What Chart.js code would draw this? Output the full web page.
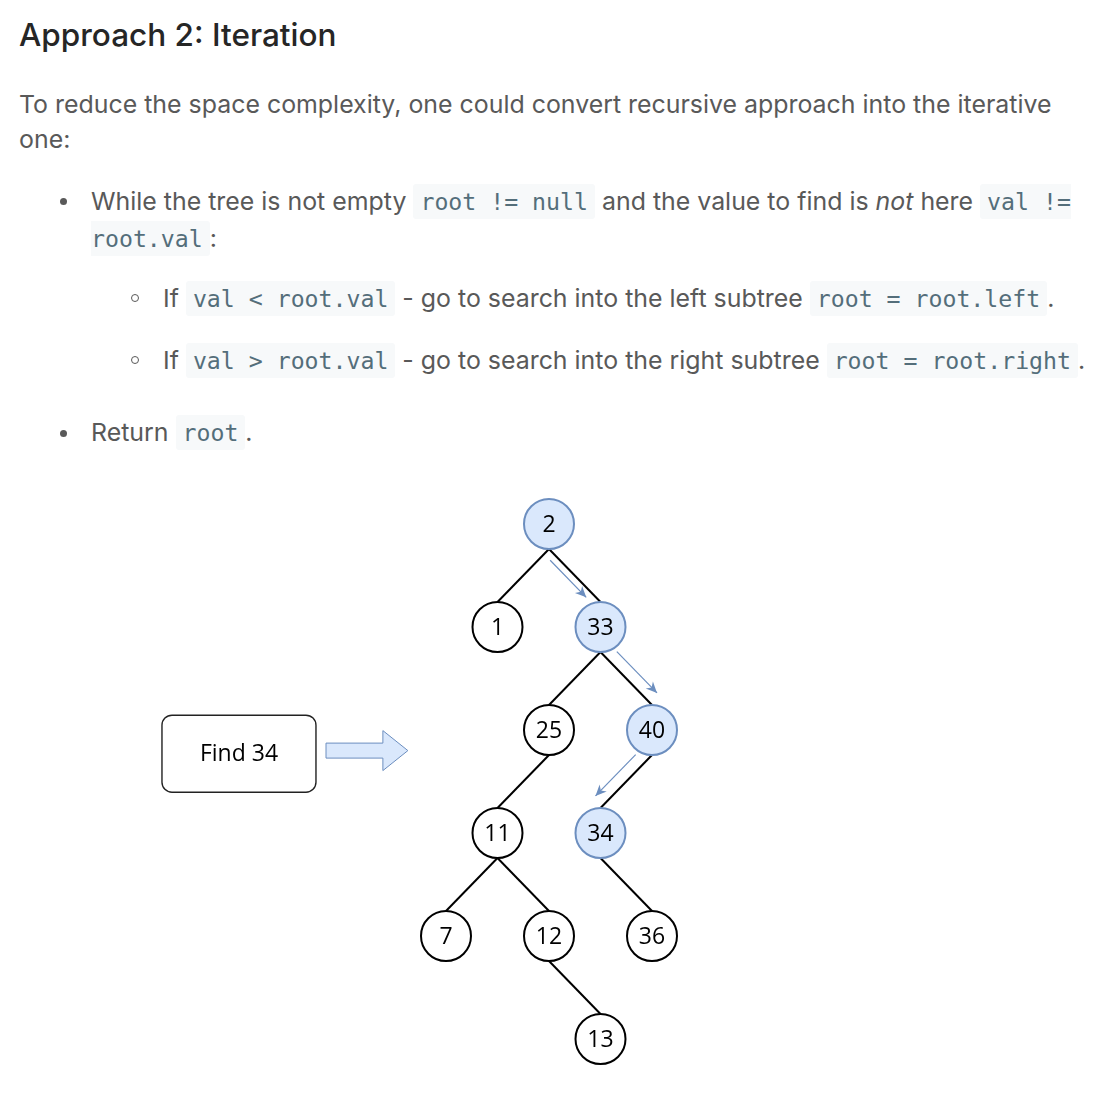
<!DOCTYPE html>
<html>
<head>
<meta charset="utf-8">
<script src="https://cdn.jsdelivr.net/npm/chart.js@4"></script>
<style>
  body { margin: 0; background: #fff; width: 1118px; height: 1102px; overflow: hidden;
         font-family: Inter, "Noto Sans", sans-serif; color: #595959; }
  .ln { position: absolute; white-space: nowrap; font-size: 24.9px; line-height: 36px; height: 36px; }
  h3 { position: absolute; left: 19px; top: 16px; margin: 0; font-size: 31.5px; line-height: 38px;
       font-weight: 500; color: #262626; }
  code { font-family: "DejaVu Sans Mono", monospace; font-size: 23.2px; color: #546e7a;
         background: #f7f9fa; border-radius: 3px; padding: 4px 7px; }
  code.open { padding-right: 0; border-radius: 3px 0 0 3px; }
  code.close { padding-left: 0; border-radius: 0 3px 3px 0; }
  .dot { position: absolute; width: 7px; height: 7px; border-radius: 50%; background: #595959; }
  .ring { position: absolute; width: 6px; height: 6px; border-radius: 50%; border: 1.6px solid #595959; }
  #tree { position: absolute; left: 0; top: 470px; }
</style>
</head>
<body>
<h3>Approach 2: Iteration</h3>
<div class="ln" style="left:19px; top:86px">To reduce the space complexity, one could convert recursive approach into the iterative</div>
<div class="ln" style="left:19px; top:121px">one:</div>

<div class="dot" style="left:60px; top:198px"></div>
<div class="ln" style="left:91px; top:183px">While the tree is not empty <code>root != null</code> and the value to find is <em>not</em> here <code class="open">val !=</code></div>
<div class="ln" style="left:91px; top:220px"><code class="close">root.val</code>:</div>

<div class="ring" style="left:131px; top:294px"></div>
<div class="ln" style="left:163px; top:280px">If <code>val &lt; root.val</code> - go to search into the left subtree <code>root = root.left</code>.</div>
<div class="ring" style="left:131px; top:356px"></div>
<div class="ln" style="left:163px; top:342px">If <code>val &gt; root.val</code> - go to search into the right subtree <code>root = root.right</code>.</div>

<div class="dot" style="left:60px; top:430px"></div>
<div class="ln" style="left:91px; top:414px">Return <code>root</code>.</div>

<canvas id="tree" width="1118" height="632"></canvas>

<script>
// arvore binaria de busca
const nodeValues  = [2, 1, 33, 25, 40, 11, 34, 7, 12, 36, 13];
const nodeColumns = [2, 1, 3, 2, 4, 1, 3, 0, 2, 4, 3];
const nodeLevels  = [0, 1, 1, 2, 2, 3, 3, 4, 4, 4, 5];
const edges = [[2, 1], [2, 33], [33, 25], [33, 40], [25, 11], [40, 34], [11, 7], [11, 12], [34, 36], [12, 13]];
const searchPath = [2, 33, 40, 34];
const targetValue = 34;

const BLUE_FILL = '#dae8fc';
const BLUE_LINE = '#6c8ebf';
const NODE_R = 25;
const diagramFont = '"Open Sans", "DejaVu Sans", sans-serif';

// lado do deslocamento das setas azuis ao lado das arestas
const arrowSide = [7, -12, -12];

function nodePos(chart, value) {
  const i = nodeValues.indexOf(value);
  const pt = chart.getDatasetMeta(0).data[i];
  return { x: pt.x, y: pt.y };
}

function arrowHead(ctx, x, y, ang, len, wid) {
  ctx.beginPath();
  ctx.moveTo(x, y);
  ctx.lineTo(x - len * Math.cos(ang) + wid * Math.sin(ang), y - len * Math.sin(ang) - wid * Math.cos(ang));
  ctx.lineTo(x - len * 0.7 * Math.cos(ang), y - len * 0.7 * Math.sin(ang));
  ctx.lineTo(x - len * Math.cos(ang) - wid * Math.sin(ang), y - len * Math.sin(ang) + wid * Math.cos(ang));
  ctx.closePath();
  ctx.fill();
}

const treePlugin = {
  id: 'tree',
  beforeDatasetsDraw(chart) {
    const ctx = chart.ctx;
    ctx.save();
    ctx.strokeStyle = '#000';
    ctx.lineWidth = 2;
    edges.forEach(([a, b]) => {
      const p = nodePos(chart, a), c = nodePos(chart, b);
      ctx.beginPath();
      ctx.moveTo(p.x, p.y + NODE_R);
      ctx.lineTo(c.x, c.y - NODE_R);
      ctx.stroke();
    });
    ctx.restore();
  },
  afterDatasetsDraw(chart) {
    const ctx = chart.ctx;
    const xs = chart.scales.x, ys = chart.scales.y;
    ctx.save();

    // rotulos dos nos
    ctx.fillStyle = '#000';
    ctx.font = '500 23px ' + diagramFont;
    ctx.textAlign = 'center';
    ctx.textBaseline = 'middle';
    nodeValues.forEach(v => {
      const p = nodePos(chart, v);
      ctx.fillText(String(v), p.x, p.y + 1);
    });

    // setas do caminho de busca
    ctx.strokeStyle = BLUE_LINE;
    ctx.fillStyle = BLUE_LINE;
    ctx.lineWidth = 1.2;
    for (let k = 0; k < searchPath.length - 1; k++) {
      const p = nodePos(chart, searchPath[k]), c = nodePos(chart, searchPath[k + 1]);
      const x0 = p.x, y0 = p.y + NODE_R, x1 = c.x, y1 = c.y - NODE_R;
      const dx = x1 - x0, dy = y1 - y0, L = Math.hypot(dx, dy);
      const ux = dx / L, uy = dy / L;
      const off = arrowSide[k];
      const nx = -uy * off * Math.sign(dx), ny = ux * off * Math.sign(dx);
      const t0 = k === 0 ? 0.12 : 0.15, t1 = k === 0 ? 0.82 : 0.93;
      const sx = x0 + ux * L * t0 + nx, sy = y0 + uy * L * t0 + ny;
      const ex = x0 + ux * L * t1 + nx, ey = y0 + uy * L * t1 + ny;
      ctx.beginPath();
      ctx.moveTo(sx, sy);
      ctx.lineTo(ex, ey);
      ctx.stroke();
      arrowHead(ctx, ex, ey, Math.atan2(uy, ux), 11, 5);
    }

    // caixa "Find 34"
    const bx = xs.getPixelForValue(-4.02), by = ys.getPixelForValue(2.23);
    const bw = 154, bh = 77;
    ctx.beginPath();
    ctx.roundRect(bx - bw / 2, by - bh / 2, bw, bh, 10);
    ctx.fillStyle = '#fff';
    ctx.fill();
    ctx.strokeStyle = '#222';
    ctx.lineWidth = 1.4;
    ctx.stroke();
    ctx.fillStyle = '#000';
    ctx.font = '500 23px ' + diagramFont;
    ctx.fillText('Find ' + targetValue, bx, by + 1);

    // seta larga
    const ax0 = xs.getPixelForValue(-2.33), ax1 = xs.getPixelForValue(-0.74);
    const ay = ys.getPixelForValue(2.2);
    const headX = ax1 - 25;
    ctx.beginPath();
    ctx.moveTo(ax0, ay - 7.5);
    ctx.lineTo(headX, ay - 7.5);
    ctx.lineTo(headX, ay - 20);
    ctx.lineTo(ax1, ay);
    ctx.lineTo(headX, ay + 20);
    ctx.lineTo(headX, ay + 7.5);
    ctx.lineTo(ax0, ay + 7.5);
    ctx.closePath();
    ctx.fillStyle = BLUE_FILL;
    ctx.fill();
    ctx.strokeStyle = BLUE_LINE;
    ctx.lineWidth = 1;
    ctx.stroke();

    ctx.restore();
  }
};

const points = nodeValues.map((v, i) => ({ x: nodeColumns[i], y: nodeLevels[i] }));
const onPath = nodeValues.map(v => searchPath.includes(v));

new Chart(document.getElementById('tree'), {
  type: 'scatter',
  data: {
    datasets: [{
      label: 'nodes',
      data: points,
      pointRadius: NODE_R,
      pointHoverRadius: NODE_R,
      borderWidth: 2,
      pointBackgroundColor: onPath.map(p => p ? BLUE_FILL : '#fff'),
      pointBorderColor: onPath.map(p => p ? BLUE_LINE : '#000'),
      clip: false,
    }]
  },
  options: {
    responsive: false,
    animation: false,
    events: [],
    layout: { padding: 0, autoPadding: false },
    plugins: { legend: { display: false }, tooltip: { enabled: false } },
    scales: {
      x: { type: 'linear', display: false, min: -446 / 51.5, max: (1118 - 446) / 51.5 },
      y: { type: 'linear', display: false, reverse: true, min: -54 / 103, max: (632 - 54) / 103 }
    }
  },
  plugins: [treePlugin]
});
</script>
</body>
</html>
